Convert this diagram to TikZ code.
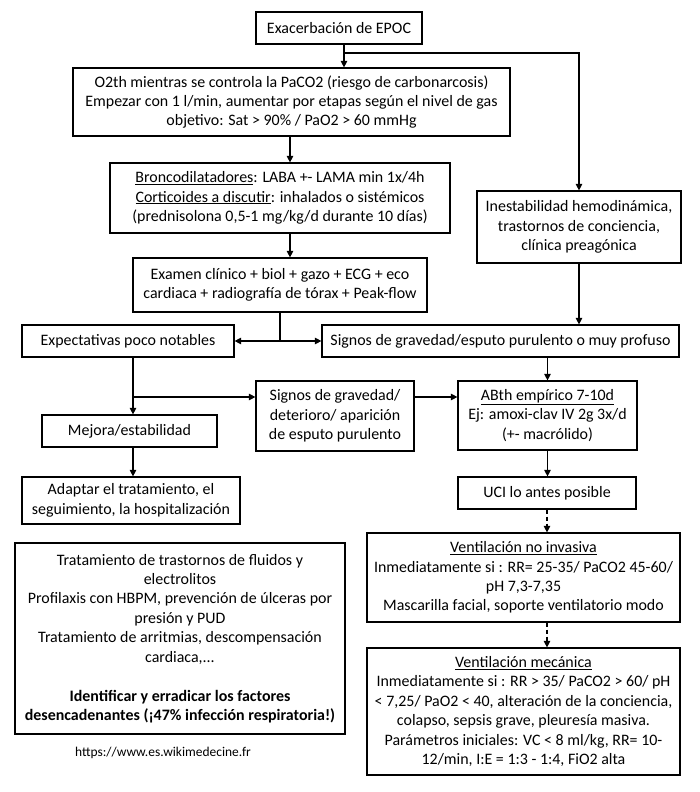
\documentclass[tikz,border=0pt]{standalone}
\usepackage{fontspec}
\setmainfont{Carlito}
\usetikzlibrary{arrows.meta}
\begin{document}
\begin{tikzpicture}[x=1bp,y=-1bp,
 box/.style={draw, line width=1.2bp, align=center, inner sep=0pt, font=\fontsize{16}{19.5}\selectfont},
 arr/.style={line width=1.2bp, -{Triangle[width=6.5bp,length=6.5bp]}},
 ln/.style={line width=1.2bp},
 dsh/.style={arr, dash pattern=on 4bp off 3bp}]
\useasboundingbox (0,0) rectangle (700,792);
\fill[white] (0,0) rectangle (700,792);

\node[box, minimum width=166bp, minimum height=32bp] (exac) at (339,28) {Exacerbación de EPOC};
\node[box, minimum width=437bp, minimum height=68bp] (o2) at (291.5,102) {O2th mientras se controla la PaCO2 (riesgo de carbonarcosis)\\Empezar con 1 l/min, aumentar por etapas según el nivel de gas\\objetivo: Sat > 90\% / PaO2 > 60 mmHg};
\node[box, minimum width=340bp, minimum height=70bp] (bron) at (280,198) {\underline{Broncodilatadores}: LABA +- LAMA min 1x/4h\\\underline{Corticoides a discutir}: inhalados o sistémicos\\(prednisolona 0,5-1 mg/kg/d durante 10 días)};
\node[box, minimum width=294bp, minimum height=54bp] (exam) at (280,285) {Examen clínico + biol + gazo + ECG + eco\\cardiaca + radiografía de tórax + Peak-flow};
\node[box, minimum width=204bp, minimum height=72bp] (inest) at (579,227) {Inestabilidad hemodinámica,\\trastornos de conciencia,\\clínica preagónica};
\node[box, minimum width=212bp, minimum height=32bp] (expec) at (128,341) {Expectativas poco notables};
\node[box, minimum width=357bp, minimum height=32bp] (sig1) at (500.5,341) {Signos de gravedad/esputo purulento o muy profuso};
\node[box, minimum width=158bp, minimum height=70bp] (deter) at (335,416) {Signos de gravedad/\\deterioro/ aparición\\de esputo purulento};
\node[box, minimum width=179bp, minimum height=69bp] (abth) at (547.5,415.5) {\underline{ABth empírico 7-10d}\\Ej: amoxi-clav IV 2g 3x/d\\(+- macrólido)};
\node[box, minimum width=175bp, minimum height=32bp] (mejora) at (129.5,431) {Mejora/estabilidad};
\node[box, minimum width=218bp, minimum height=47bp] (adapt) at (131,500.5) {Adaptar el tratamiento, el\\seguimiento, la hospitalización};
\node[box, minimum width=178bp, minimum height=32bp] (uci) at (547,493) {UCI lo antes posible};
\node[box, minimum width=313bp, minimum height=89bp] (vni) at (523.5,577.5) {\underline{Ventilación no invasiva}\\Inmediatamente si : RR= 25-35/ PaCO2 45-60/\\pH 7,3-7,35\\Mascarilla facial, soporte ventilatorio modo};
\node[box, minimum width=313bp, minimum height=127bp] (vm) at (523.5,711.5) {\underline{Ventilación mecánica}\\Inmediatamente si : RR > 35/ PaCO2 > 60/ pH\\< 7,25/ PaO2 < 40, alteración de la conciencia,\\colapso, sepsis grave, pleuresía masiva.\\Parámetros iniciales: VC < 8 ml/kg, RR= 10-\\12/min, I:E = 1:3 - 1:4, FiO2 alta};
\node[box, minimum width=330bp, minimum height=191bp] (notes) at (180,638.5) {Tratamiento de trastornos de fluidos y\\electrolitos\\Profilaxis con HBPM, prevención de úlceras por\\presión y PUD\\Tratamiento de arritmias, descompensación\\cardiaca,...\\[19.5bp]\textbf{Identificar y erradicar los factores}\\\textbf{desencadenantes (¡47\% infección respiratoria!)}};
\node[font=\fontsize{13.5}{16}\selectfont, inner sep=0pt] (url) at (163,753) {https://www.es.wikimedecine.fr};

\coordinate (s1) at (344,53);
\coordinate (c2) at (290,0);
\coordinate (b) at (133,397);
\draw[arr] (exac.south -| s1) -- (o2.north -| s1);
\draw[arr] (s1) -| (inest.north);
\draw[arr] (o2.south -| c2) -- (bron.north -| c2);
\draw[arr] (bron.south -| c2) -- (exam.north -| c2);
\coordinate (j) at (exam.south |- expec.east);
\draw[ln] (exam.south) -- (j);
\draw[arr] (j) -- (expec.east);
\draw[arr] (j) -- (sig1.west);
\draw[arr] (inest.south) -- (inest.south |- sig1.north);
\draw[arr] (sig1.south -| abth.north) -- (abth.north);
\draw[arr] (expec.south -| b) -- (mejora.north -| b);
\draw[arr] (b) -- (deter.west |- b);
\draw[arr] (deter.east |- b) -- (abth.west |- b);
\draw[arr] (mejora.south -| b) -- (adapt.north -| b);
\draw[arr] (abth.south) -- (abth.south |- uci.north);
\draw[dsh] (uci.south) -- (uci.south |- vni.north);
\draw[dsh] (vni.south -| uci.south) -- (vm.north -| uci.south);
\end{tikzpicture}
\end{document}
